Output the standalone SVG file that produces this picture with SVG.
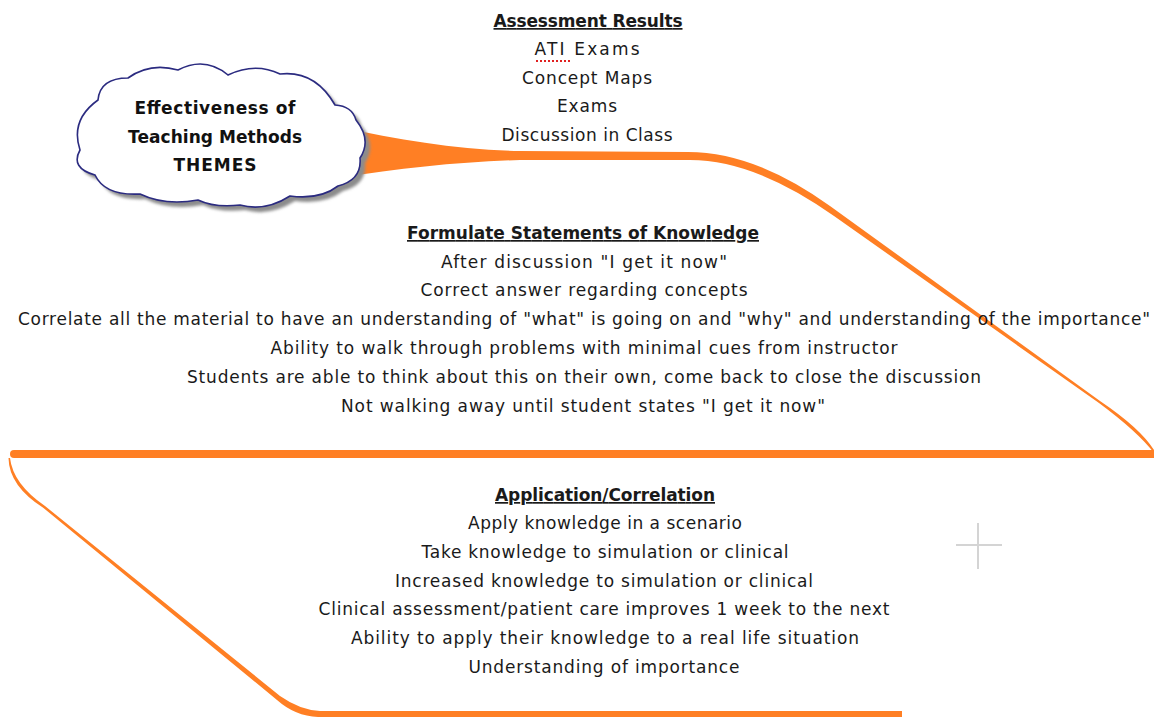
<svg xmlns="http://www.w3.org/2000/svg" width="1154" height="717" viewBox="0 0 1154 717">
<style>
.t{font-family:"DejaVu Sans","Liberation Sans",sans-serif;font-size:17px;fill:#1a1a1a;text-anchor:middle}
.h{font-weight:bold;text-decoration:underline}
.c{font-family:"DejaVu Sans","Liberation Sans",sans-serif;font-size:17px;font-weight:bold;fill:#111;text-anchor:middle}
.br{fill:#ff7f24}
</style>
<defs>
<filter id="blur" x="-10%" y="-10%" width="130%" height="130%"><feGaussianBlur stdDeviation="1.5"/></filter>
<path id="cloudShape" d="M 80,150 Q 70,120 98,100 Q 100,78 128,78 Q 150,62 178,70 Q 205,56 228,75 Q 255,62 280,74 Q 315,70 335,105 Q 352,106 356,120 Q 372,140 360,158 Q 362,180 338,186 Q 320,200 290,196 Q 265,212 240,205 Q 215,208 198,200 Q 165,206 140,194 Q 105,196 95,175 Q 70,168 80,150 Z"/>
</defs>
<rect width="1154" height="717" fill="#fff"/>
<g id="connectors">
<path class="br" d="M 340,127 C 400,140 460,150 520,151 L 688,152 Q 755,152 830,206 L 1100,401 Q 1140,428 1154,450 L 1154,453 Q 1138,432 1099,403 L 834,216 Q 755,160 690,160 L 520,160 C 460,162 400,168 340,178 Z"/>
<path class="br" d="M 14,450 L 1154,450 L 1154,458 L 14,458 A 4,4 0 0 1 14,450 Z"/>
<path class="br" d="M 10,458 Q 13,484 45,506 L 280,696 Q 300,710 320,711 L 902,711 L 902,717 L 318,717 Q 295,716 277,700 L 43.5,508 Q 9,486 8.5,458 Z"/>
</g>
<g id="cross" stroke="#d4d4d4" stroke-width="2">
<line x1="956" y1="545" x2="1002" y2="545"/>
<line x1="978" y1="523" x2="978" y2="569"/>
</g>
<g id="node-themes">
<use href="#cloudShape" transform="translate(5,5)" fill="#8c8c8c" filter="url(#blur)"/>
<use href="#cloudShape" fill="#fff" stroke="#2b2b80" stroke-width="1.6"/>
<text class="c" x="215" y="114" textLength="161">Effectiveness of</text>
<text class="c" x="215" y="143" textLength="174">Teaching Methods</text>
<text class="c" x="215" y="171" textLength="83">THEMES</text>
</g>
<g id="node-assessment">
<text class="t h" x="588" y="27" textLength="189">Assessment Results</text>
<text class="t" x="587" y="55" textLength="105">ATI Exams</text>
<line x1="536" y1="61" x2="572" y2="61" stroke="#e02020" stroke-width="2" stroke-dasharray="2,2"/>
<text class="t" x="587" y="84" textLength="130">Concept Maps</text>
<text class="t" x="587" y="112" textLength="60">Exams</text>
<text class="t" x="587" y="141" textLength="171">Discussion in Class</text>
</g>
<g id="node-formulate">
<text class="t h" x="583" y="239" textLength="352">Formulate Statements of Knowledge</text>
<text class="t" x="584" y="268" textLength="286">After discussion "I get it now"</text>
<text class="t" x="584" y="296" textLength="327">Correct answer regarding concepts</text>
<text class="t" x="584" y="325" textLength="1132">Correlate all the material to have an understanding of "what" is going on and "why" and understanding of the importance"</text>
<text class="t" x="584" y="354" textLength="627">Ability to walk through problems with minimal cues from instructor</text>
<text class="t" x="584" y="383" textLength="794">Students are able to think about this on their own, come back to close the discussion</text>
<text class="t" x="583" y="412" textLength="484">Not walking away until student states "I get it now"</text>
</g>
<g id="node-application">
<text class="t h" x="605" y="501" textLength="220">Application/Correlation</text>
<text class="t" x="605" y="529" textLength="274">Apply knowledge in a scenario</text>
<text class="t" x="605" y="558" textLength="367">Take knowledge to simulation or clinical</text>
<text class="t" x="604" y="587" textLength="418">Increased knowledge to simulation or clinical</text>
<text class="t" x="604" y="615" textLength="571">Clinical assessment/patient care improves 1 week to the next</text>
<text class="t" x="605" y="644" textLength="508">Ability to apply their knowledge to a real life situation</text>
<text class="t" x="604" y="673" textLength="271">Understanding of importance</text>
</g>
</svg>
